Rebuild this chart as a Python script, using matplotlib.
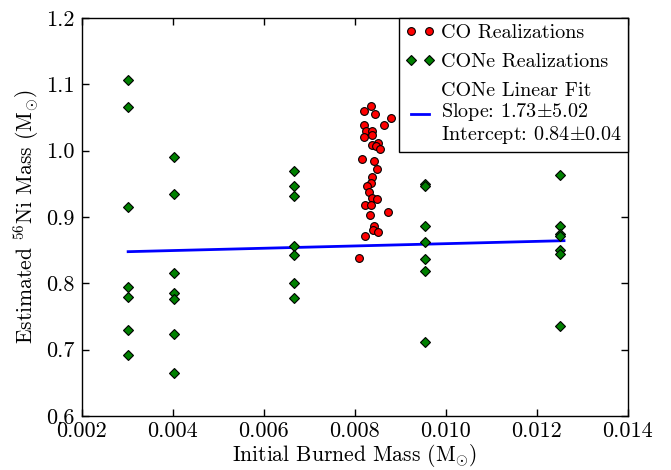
import matplotlib
matplotlib.use("Agg")
import matplotlib.pyplot as plt
import numpy as np

plt.rcParams["font.family"] = "serif"
plt.rcParams["font.serif"] = ["cmr10"]
plt.rcParams["mathtext.fontset"] = "cm"
plt.rcParams["axes.formatter.use_mathtext"] = True

# CO white dwarf realizations
co_burned = [0.00836, 0.00820, 0.00845, 0.00880, 0.00820, 0.00865, 0.00825, 0.00837,
             0.00837, 0.00821, 0.00852, 0.00838, 0.00847, 0.00856, 0.00816, 0.00843,
             0.00848, 0.00838, 0.00835, 0.00827, 0.00832, 0.00837, 0.00848, 0.00823,
             0.00835, 0.00833, 0.00873, 0.00843, 0.00840, 0.00852, 0.00823, 0.00810]
co_ni56 = [1.068, 1.060, 1.056, 1.050, 1.039, 1.038, 1.030, 1.029,
           1.024, 1.021, 1.012, 1.009, 1.007, 1.003, 0.987, 0.985,
           0.972, 0.961, 0.951, 0.947, 0.938, 0.928, 0.927, 0.918,
           0.918, 0.903, 0.908, 0.887, 0.880, 0.877, 0.871, 0.838]

# CONe hybrid realizations
cone_burned = [0.00302] * 7 + [0.00403] * 7 + [0.00667] * 7 + [0.00955] * 7 + [0.01252] * 7
cone_ni56 = [1.107, 1.066, 0.915, 0.794, 0.780, 0.729, 0.692,
             0.991, 0.934, 0.815, 0.786, 0.777, 0.724, 0.665,
             0.969, 0.947, 0.932, 0.856, 0.843, 0.801, 0.778,
             0.949, 0.947, 0.887, 0.863, 0.836, 0.818, 0.711,
             0.964, 0.886, 0.875, 0.871, 0.851, 0.844, 0.735]

# Linear fit parameters for the CONe sample
fit_slope, fit_slope_err = 1.73, 5.02
fit_intercept, fit_intercept_err = 0.8425, 0.04

fig = plt.figure(figsize=(6.71, 4.70), dpi=100)
ax = fig.add_axes([0.1218, 0.1149, 0.8137, 0.8468])

h_co, = ax.plot(co_burned, co_ni56, "o", color="red", markeredgecolor="black",
                markeredgewidth=0.8, markersize=5.6, linestyle="none", zorder=3,
                label="CO Realizations")
h_cone, = ax.plot(cone_burned, cone_ni56, "D", color="green", markeredgecolor="black",
                  markeredgewidth=0.8, markersize=4.6, linestyle="none", zorder=3,
                  label="CONe Realizations")
fit_x = np.array([min(cone_burned), 0.0126])
fit_label = ("CONe Linear Fit\n"
             f"Slope: {fit_slope:.2f}$\\pm${fit_slope_err:.2f}\n"
             f"Intercept: {fit_intercept:.2f}$\\pm${fit_intercept_err:.2f}")
h_fit, = ax.plot(fit_x, fit_intercept + fit_slope * fit_x, color="blue", linewidth=2,
                 zorder=2, label=fit_label)

ax.set_xlim(0.002, 0.014)
ax.set_ylim(0.6, 1.2)
xt = np.arange(0.002, 0.0141, 0.002)
yt = np.arange(0.6, 1.21, 0.1)
ax.set_xticks(xt)
ax.set_yticks(yt)
ax.set_xticklabels([f"{v:.3f}" for v in xt])
ax.set_yticklabels([f"{v:.1f}" for v in yt])
ax.tick_params(direction="in", top=True, right=True, length=5, width=1,
               labelsize=16)
ax.tick_params(axis="x", pad=4)
ax.tick_params(axis="y", pad=5)
for s in ax.spines.values():
    s.set_linewidth(1.0)

ax.set_xlabel(r"Initial Burned Mass (M$_{\odot}$)", fontsize=15.5, labelpad=1)
ax.set_ylabel(r"Estimated $^{56}$Ni Mass (M$_{\odot}$)", fontsize=15.5, labelpad=4)

leg = ax.legend(handles=[h_co, h_cone, h_fit], loc="upper right", numpoints=2,
                fontsize=14.5, borderaxespad=0, fancybox=False, framealpha=1,
                edgecolor="black", handlelength=1.5, handletextpad=0.28,
                borderpad=0.3, labelspacing=0.55)
leg.get_frame().set_linewidth(1.0)
for t in leg.get_texts():
    t.set_linespacing(1.05)

fig.savefig("out.png", dpi=100)
